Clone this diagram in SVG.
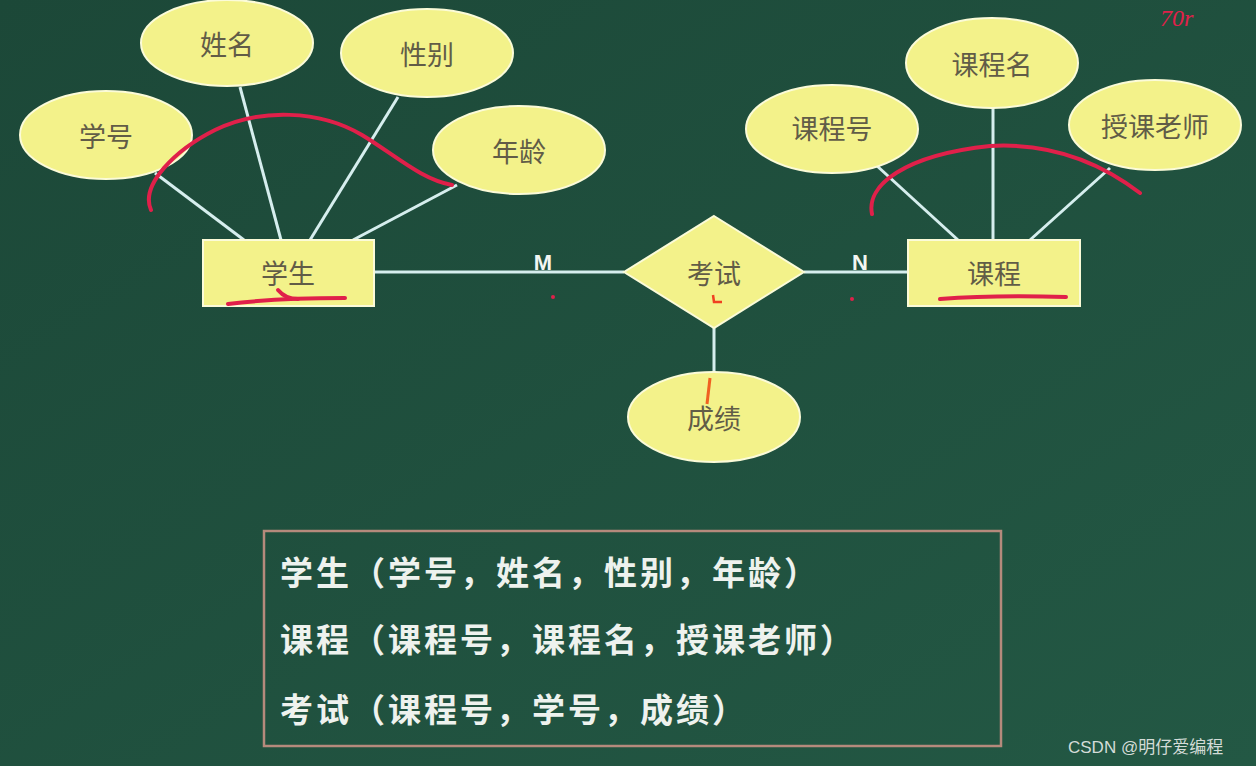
<svg xmlns="http://www.w3.org/2000/svg" width="1256" height="766" viewBox="0 0 1256 766">
<defs>
<linearGradient id="bg" x1="0" y1="0" x2="1" y2="1">
<stop offset="0" stop-color="#1c4838"/>
<stop offset="1" stop-color="#235844"/>
</linearGradient>
<style>
.attr{fill:#f3f28a;stroke:#fbfbd8;stroke-width:2}
.ent{fill:#f3f28a;stroke:#fbfbd8;stroke-width:2}
.lbl{font-family:"Noto Sans CJK SC",sans-serif;font-size:27px;fill:#615c47;text-anchor:middle;dominant-baseline:central}
.con{stroke:#d6eeee;stroke-width:3;fill:none}
.card{font-family:"Liberation Sans",sans-serif;font-weight:bold;font-size:22px;fill:#f2f6f2;text-anchor:middle}
.red{stroke:#e0204a;stroke-width:4;fill:none;stroke-linecap:round}
.rel{font-family:"Noto Sans CJK SC",sans-serif;font-weight:bold;font-size:33px;letter-spacing:3px;fill:#eef2ee}
</style>
</defs>
<rect width="1256" height="766" fill="url(#bg)"/>

<g id="connectors">
<line class="con" x1="155" y1="173" x2="244" y2="240"/>
<line class="con" x1="240" y1="87" x2="281" y2="240"/>
<line class="con" x1="398" y1="97" x2="310" y2="240"/>
<line class="con" x1="457" y1="185" x2="353" y2="240"/>
<line class="con" x1="876" y1="165" x2="958" y2="240"/>
<line class="con" x1="993" y1="108" x2="993" y2="240"/>
<line class="con" x1="1110" y1="168" x2="1030" y2="240"/>
<line class="con" x1="374" y1="272" x2="624" y2="272"/>
<line class="con" x1="804" y1="272" x2="908" y2="272"/>
<line class="con" x1="714" y1="328" x2="714" y2="372"/>
<text class="card" x="543" y="270">M</text>
<text class="card" x="860" y="270">N</text>
</g>

<g id="n-xuehao"><ellipse class="attr" cx="106" cy="135" rx="86" ry="44"/><text class="lbl" x="106" y="135">学号</text></g>
<g id="n-xingming"><ellipse class="attr" cx="227" cy="43" rx="86" ry="43"/><text class="lbl" x="227" y="43">姓名</text></g>
<g id="n-xingbie"><ellipse class="attr" cx="427" cy="53" rx="86" ry="44"/><text class="lbl" x="427" y="53">性别</text></g>
<g id="n-nianling"><ellipse class="attr" cx="519" cy="150" rx="86" ry="44"/><text class="lbl" x="519" y="150">年龄</text></g>
<g id="n-xuesheng"><rect class="ent" x="203" y="240" width="171" height="66"/><text class="lbl" x="288" y="272">学生</text></g>
<g id="n-kaoshi"><polygon class="ent" points="714,216 804,272 714,328 624,272"/><text class="lbl" x="714" y="272">考试</text></g>
<g id="n-kecheng"><rect class="ent" x="908" y="240" width="172" height="66"/><text class="lbl" x="994" y="272">课程</text></g>
<g id="n-kechenghao"><ellipse class="attr" cx="832" cy="129" rx="86" ry="44"/><text class="lbl" x="832" y="127">课程号</text></g>
<g id="n-kechengming"><ellipse class="attr" cx="992" cy="63" rx="86" ry="45"/><text class="lbl" x="992" y="63">课程名</text></g>
<g id="n-shouke"><ellipse class="attr" cx="1155" cy="125" rx="86" ry="45"/><text class="lbl" x="1155" y="125">授课老师</text></g>
<g id="n-chengji"><ellipse class="attr" cx="714" cy="417" rx="86" ry="45"/><text class="lbl" x="714" y="417">成绩</text></g>

<g id="annotations">
<path class="red" d="M151,210 C140,185 175,150 215,130 C260,108 320,110 362,135 C395,155 422,180 452,185"/>
<path class="red" stroke-width="3" d="M228,304 C260,300 310,298 345,298"/>
<path class="red" stroke-width="2.5" d="M278,290 C283,296 290,299 298,299"/>
<path class="red" d="M872,214 C866,185 905,155 990,146 C1060,142 1110,170 1140,193"/>
<path class="red" stroke-width="3" d="M940,299 C980,296 1030,296 1066,297"/>
<circle cx="553" cy="297" r="2" fill="#e0204a"/>
<circle cx="852" cy="299" r="2" fill="#e0204a"/>
<path d="M713,295 L714,302 L722,302" stroke="#f04020" stroke-width="2.5" fill="none"/>
<path d="M710,378 L707,404" stroke="#f06020" stroke-width="3" fill="none"/>
<text x="1160" y="26" font-family="Liberation Serif,serif" font-style="italic" font-size="24" fill="#e0204a">70r</text>
</g>

<g id="schema">
<rect x="264" y="531" width="737" height="215" fill="none" stroke="#b58a7c" stroke-width="2.5"/>
<text class="rel" x="280" y="585">学生（学号，姓名，性别，年龄）</text>
<text class="rel" x="280" y="652">课程（课程号，课程名，授课老师）</text>
<text class="rel" x="280" y="722">考试（课程号，学号，成绩）</text>
</g>

<text x="1068" y="753" font-family="Liberation Sans,Noto Sans CJK SC,sans-serif" font-size="17" fill="#d4dcd8">CSDN @明仔爱编程</text>
</svg>
